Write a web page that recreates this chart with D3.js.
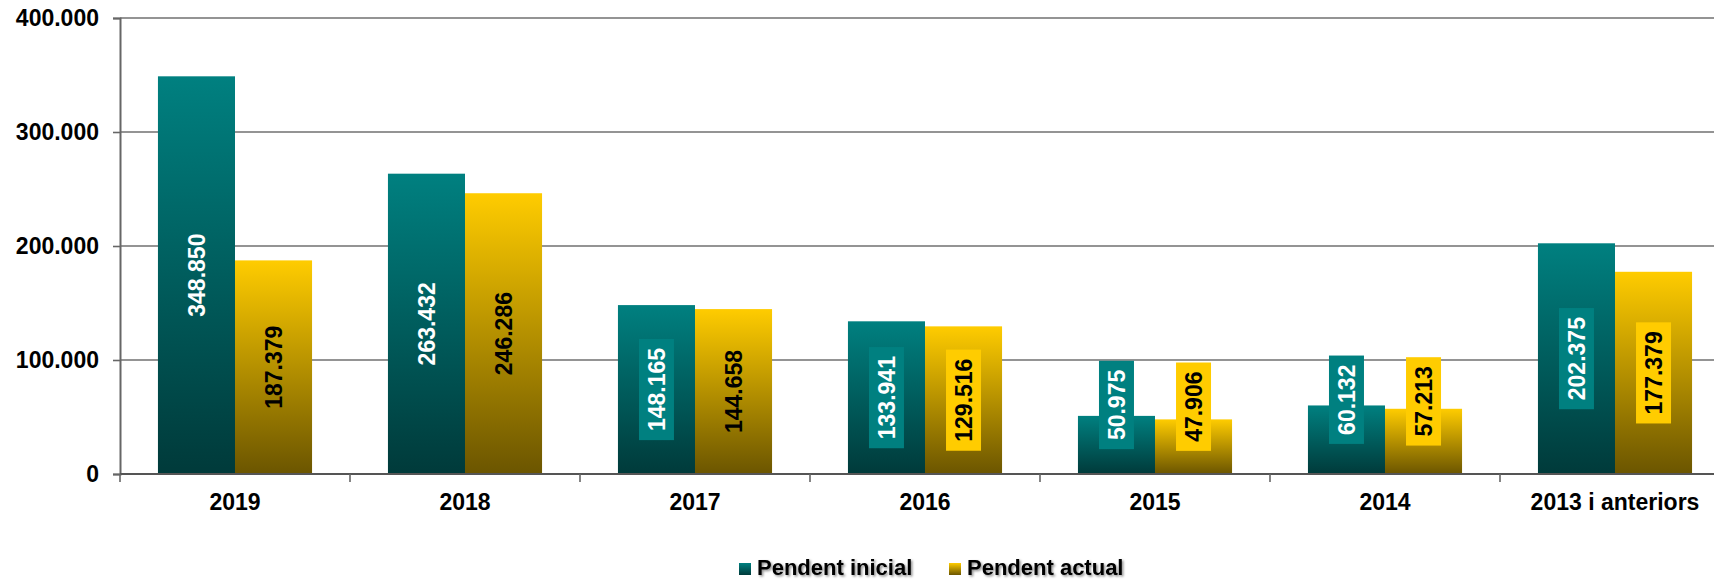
<!DOCTYPE html>
<html>
<head>
<meta charset="utf-8">
<script src="https://cdn.jsdelivr.net/npm/d3@7"></script>
<style>
  html, body { margin: 0; padding: 0; background: #fff; }
  svg { display: block; font-family: "Liberation Sans", Arial, sans-serif; }
</style>
</head>
<body>
<svg id="chart" width="1714" height="580"></svg>
<script>
const categories = ["2019", "2018", "2017", "2016", "2015", "2014", "2013 i anteriors"];
const seriesNames = ["Pendent inicial", "Pendent actual"];
const pendentInicial = [348850, 263432, 148165, 133941, 50975, 60132, 202375];
const pendentActual = [187379, 246286, 144658, 129516, 47906, 57213, 177379];
const labelBoxInicial = [false, false, true, true, true, true, true];
const labelBoxActual = [false, false, false, true, true, true, true];
const yTicks = [0, 100000, 200000, 300000, 400000];

const seriesColors = [
  { top: "#008080", bottom: "#003a3a", text: "#ffffff" },
  { top: "#ffcc00", bottom: "#6b5500", text: "#000000" }
];

(function () {
const svg = d3.select("#chart");
const W = 1714, H = 580;
const pLeft = 120, pRight = 1730, pTop = 18, pBottom = 474;

const locale = d3.formatLocale({ decimal: ",", thousands: ".", grouping: [3], currency: ["", ""] });
const fmt = locale.format(",d");

const x0 = d3.scaleBand().domain(categories).range([pLeft, pRight]).paddingInner(0.33).paddingOuter(0.165);
const x1 = d3.scaleBand().domain(seriesNames).range([0, x0.bandwidth()]);
const y = d3.scaleLinear().domain([0, 400000]).range([pBottom, pTop]);

const defs = svg.append("defs");
seriesColors.forEach((c, i) => {
  const g = defs.append("linearGradient").attr("id", "grad" + i)
    .attr("x1", 0).attr("y1", 0).attr("x2", 0).attr("y2", 1);
  g.append("stop").attr("offset", "0%").attr("stop-color", c.top);
  g.append("stop").attr("offset", "100%").attr("stop-color", c.bottom);
});
const shadow = defs.append("filter").attr("id", "shadow").attr("x", "-10%").attr("y", "-30%").attr("width", "120%").attr("height", "160%");
shadow.append("feDropShadow").attr("dx", 1.5).attr("dy", 1.5).attr("stdDeviation", 1).attr("flood-color", "#000").attr("flood-opacity", 0.45);

// gridlines
svg.append("g").selectAll("line").data(yTicks.filter(d => d > 0)).join("line")
  .attr("x1", pLeft).attr("x2", W).attr("y1", d => y(d)).attr("y2", d => y(d))
  .attr("stroke", "#707070").attr("stroke-width", 1.6);

// y axis
const yAxis = svg.append("g").attr("transform", `translate(${pLeft},0)`)
  .call(d3.axisLeft(y).tickValues(yTicks).tickFormat(fmt).tickSize(7).tickPadding(14));
yAxis.select(".domain").attr("stroke", "#666").attr("stroke-width", 2);
yAxis.selectAll(".tick line").attr("stroke", "#666").attr("stroke-width", 1.6);
yAxis.selectAll(".tick text").attr("font-size", 23).attr("font-weight", "bold").attr("fill", "#000")
  .attr("font-family", "Liberation Sans, Arial, sans-serif");

// bars
const data = categories.map((c, i) => ({
  cat: c,
  vals: [
    { s: 0, name: seriesNames[0], v: pendentInicial[i], box: labelBoxInicial[i] },
    { s: 1, name: seriesNames[1], v: pendentActual[i], box: labelBoxActual[i] }
  ]
}));

const groups = svg.append("g").selectAll("g").data(data).join("g")
  .attr("transform", d => `translate(${x0(d.cat)},0)`);

groups.selectAll("rect").data(d => d.vals).join("rect")
  .attr("x", d => x1(d.name))
  .attr("width", x1.bandwidth())
  .attr("y", d => y(d.v))
  .attr("height", d => y(0) - y(d.v))
  .attr("fill", d => `url(#grad${d.s})`);

// x axis
const step = x0.step();
const boundaries = categories.map(c => x0(c) - step * x0.paddingInner() / 2).concat([pRight]);
svg.append("line").attr("x1", pLeft).attr("x2", W).attr("y1", y(0)).attr("y2", y(0))
  .attr("stroke", "#555").attr("stroke-width", 2);
svg.append("g").selectAll("line").data(boundaries).join("line")
  .attr("x1", d => d).attr("x2", d => d).attr("y1", y(0)).attr("y2", y(0) + 8)
  .attr("stroke", "#666").attr("stroke-width", 1.6);
svg.append("g").selectAll("text").data(categories).join("text")
  .attr("x", d => x0(d) + x0.bandwidth() / 2)
  .attr("y", 502).attr("dy", "0.35em")
  .attr("text-anchor", "middle").attr("font-size", 23).attr("font-weight", "bold")
  .text(d => d);

// labels
const fontSize = 23;
const pad = 9;
groups.each(function(d) {
  const g = d3.select(this);
  d.vals.forEach(v => {
    const cx = x1(v.name) + x1.bandwidth() / 2;
    const mid = (y(v.v) + y(0)) / 2;
    const lg = g.append("g");
    const t = lg.append("text")
      .attr("text-anchor", "middle").attr("dy", "0.36em")
      .attr("font-size", fontSize).attr("font-weight", "bold")
      .attr("fill", seriesColors[v.s].text)
      .text(fmt(v.v));
    const len = t.node().getComputedTextLength();
    const boxLen = len + 2 * pad;
    let cy = mid;
    if (cy + boxLen / 2 > y(0)) cy = mid - 40;
    if (v.box) {
      lg.insert("rect", "text")
        .attr("x", -boxLen / 2).attr("y", -17.5)
        .attr("width", boxLen).attr("height", 35)
        .attr("fill", seriesColors[v.s].top);
    }
    lg.attr("transform", `translate(${cx},${cy}) rotate(-90)`);
  });
});

// legend
const legendItems = [
  { name: seriesNames[0], s: 0, x: 739 },
  { name: seriesNames[1], s: 1, x: 949 }
];
const leg = svg.append("g");
legendItems.forEach(it => {
  leg.append("rect").attr("x", it.x).attr("y", 563).attr("width", 12).attr("height", 12)
    .attr("fill", `url(#grad${it.s})`);
  leg.append("text").attr("x", it.x + 18).attr("y", 575)
    .attr("font-size", 22).attr("font-weight", "bold").attr("filter", "url(#shadow)")
    .text(it.name);
});
})();
</script>
</body>
</html>
